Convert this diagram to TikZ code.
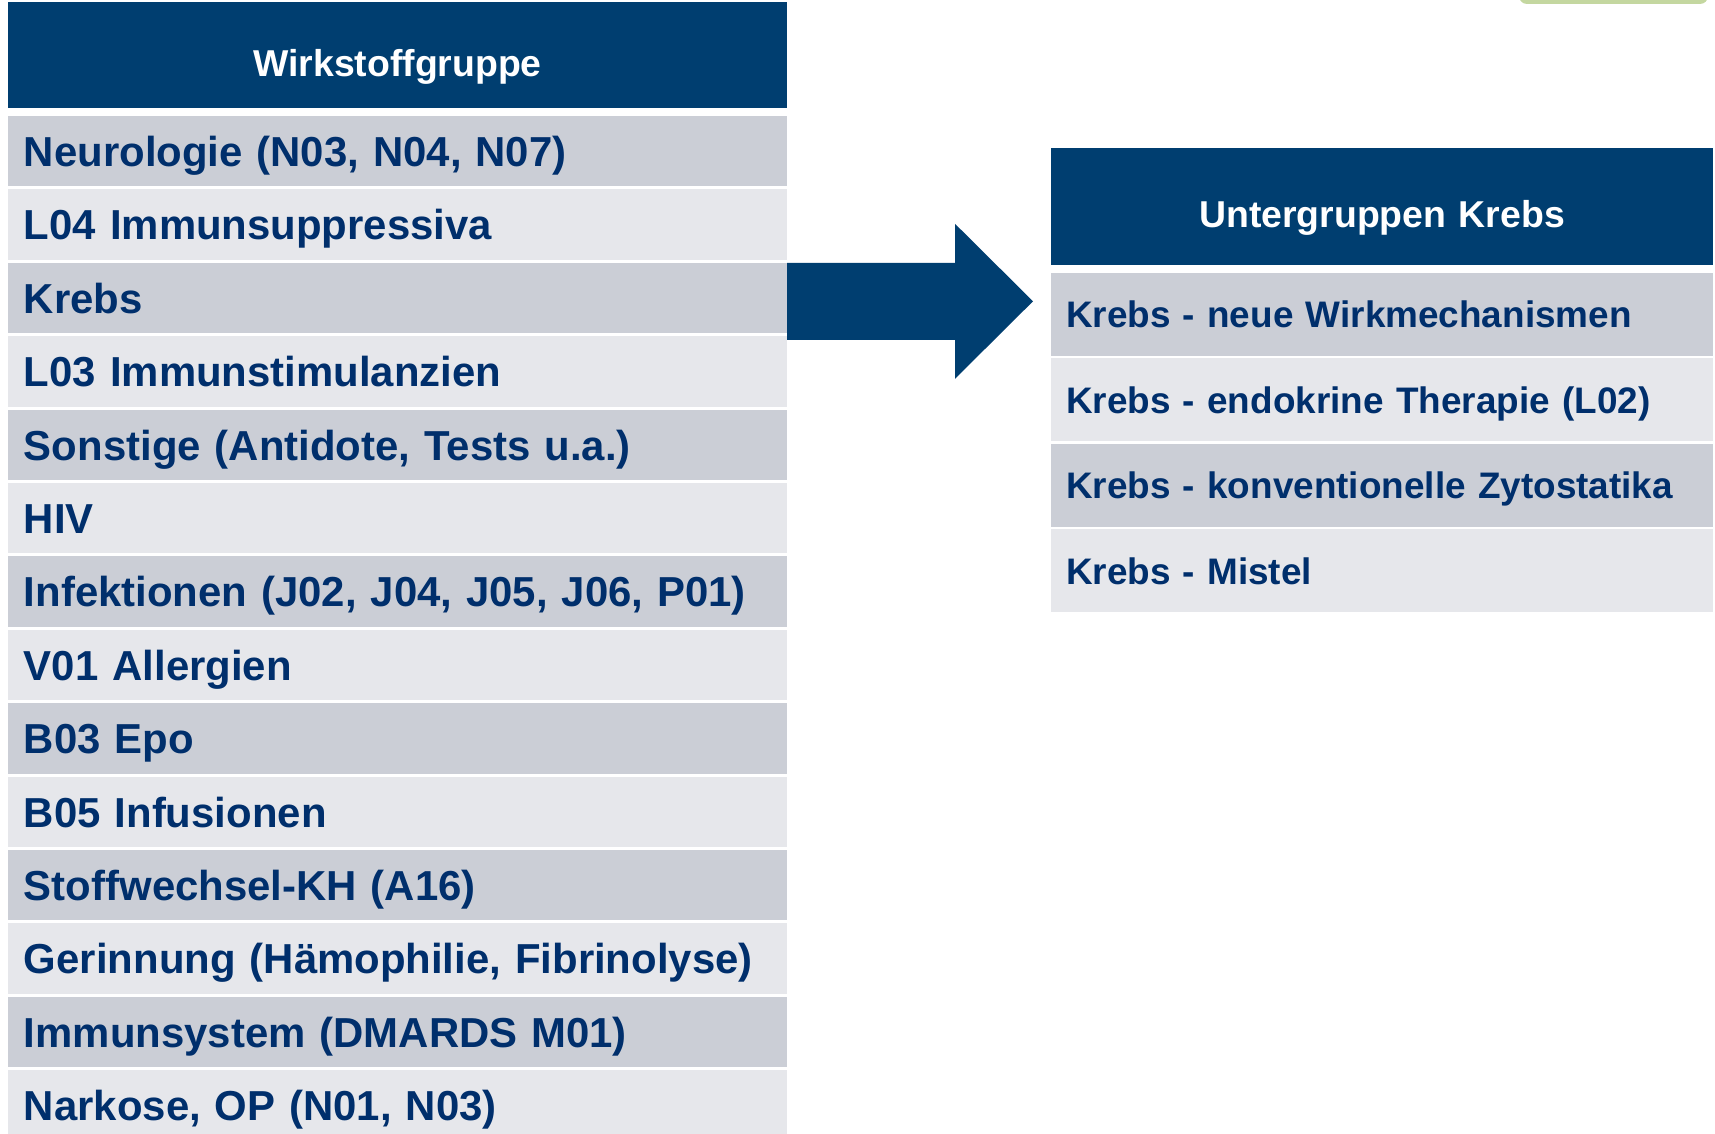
\documentclass[tikz,border=0pt]{standalone}
\usepackage{fontspec}
\setmainfont{Liberation Sans}
\usepackage{xcolor}
\usetikzlibrary{positioning}
\definecolor{kopfblau}{HTML}{003E70}
\definecolor{schrift}{HTML}{002F6C}
\definecolor{zeiledunkel}{HTML}{CBCED6}
\definecolor{zeilehell}{HTML}{E6E7EB}
\definecolor{gruenrand}{HTML}{C4D7A0}

\begin{document}
\begin{tikzpicture}[x=0.5pt,y=-0.5pt,
kopf/.style={fill=kopfblau,text=white,align=center,inner sep=0pt,outer sep=0pt,
    text height=25pt,text depth=4pt,font=\fontsize{18.7}{22}\selectfont\bfseries},
zeile/.style={text=schrift,align=left,inner ysep=0pt,outer sep=0pt},
links/.style={zeile,text width=373.5pt,inner xsep=8pt,minimum height=35.2pt,
    text height=20.2pt,text depth=5pt,font=\fontsize{20.95}{25}\selectfont\bfseries},
rechts/.style={zeile,text width=316pt,inner xsep=7.5pt,minimum height=41.25pt,
    text height=17.6pt,text depth=4.3pt,font=\fontsize{18.45}{22}\selectfont\bfseries},
dunkel/.style={fill=zeiledunkel},
hell/.style={fill=zeilehell}]
\useasboundingbox[fill=white] (0,0) rectangle (1715,1134);
\fill[gruenrand,rounded corners=4pt] (1519,-12) rectangle (1708,4);
% linke Tabelle
\matrix (wirk) [anchor=north west,row sep=1.5pt,inner sep=0pt,outer sep=0pt] at (8,2) {
\node (wkopf) [kopf,text width=389.5pt,minimum height=53pt] {Wirkstoffgruppe}; \\[2.5pt]
\node (neuro) [links,dunkel] {Neurologie (N03, N04, N07)}; \\
\node (suppr) [links,hell] {L04 Immunsuppressiva}; \\
\node (krebs) [links,dunkel] {Krebs}; \\
\node (stimu) [links,hell] {L03 Immunstimulanzien}; \\
\node (sonst) [links,dunkel] {Sonstige (Antidote, Tests u.a.)}; \\
\node (hiv) [links,hell] {HIV}; \\
\node (infek) [links,dunkel] {Infektionen (J02, J04, J05, J06, P01)}; \\
\node (aller) [links,hell] {V01 Allergien}; \\
\node (epo) [links,dunkel] {B03 Epo}; \\
\node (infus) [links,hell] {B05 Infusionen}; \\
\node (stoff) [links,dunkel] {Stoffwechsel-KH (A16)}; \\
\node (gerin) [links,hell] {Gerinnung (Hämophilie, Fibrinolyse)}; \\
\node (immun) [links,dunkel] {Immunsystem (DMARDS M01)}; \\
\node (narko) [links,hell] {Narkose, OP (N01, N03)}; \\
};
% rechte Tabelle
\matrix (unter) [anchor=north west,row sep=1.5pt,inner sep=0pt,outer sep=0pt] at (1051,148) {
\node (ukopf) [kopf,text width=331pt,minimum height=58.5pt] {Untergruppen Krebs}; \\[2.5pt]
\node (neu) [rechts,dunkel] {Krebs - neue Wirkmechanismen}; \\
\node (endo) [rechts,hell] {Krebs - endokrine Therapie (L02)}; \\
\node (konv) [rechts,dunkel] {Krebs - konventionelle Zytostatika}; \\
\node (mist) [rechts,hell] {Krebs - Mistel}; \\
};
% Pfeil
\fill[kopfblau] (krebs.north east) -- ++(168,0) -- ++(0,-39) -- ++(78,77.5)
    -- ++(-78,77.5) -- ++(0,-39) -- ++(-168,0) -- cycle;
\end{tikzpicture}
\end{document}
